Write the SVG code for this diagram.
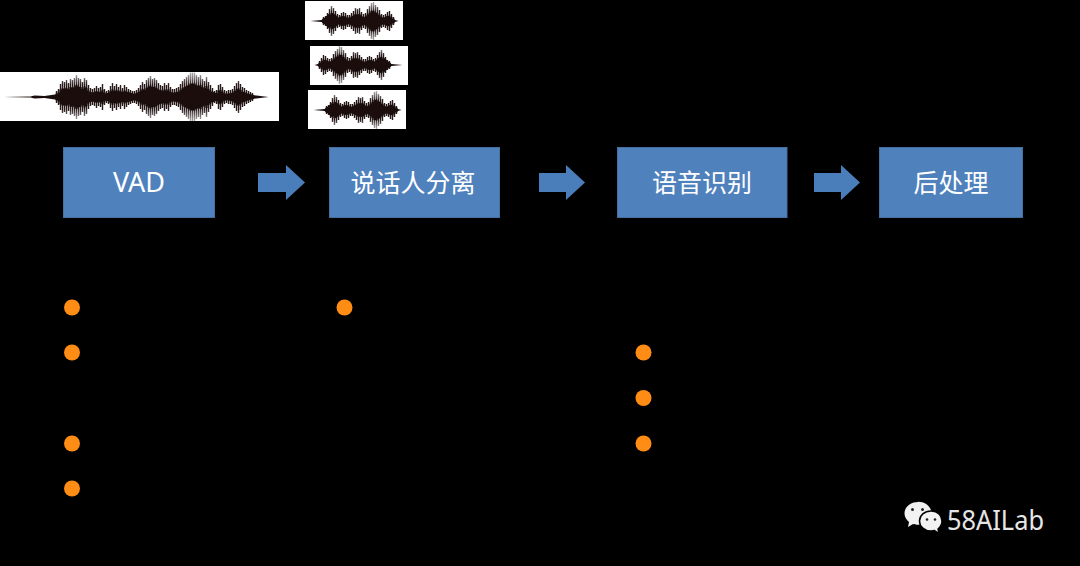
<svg xmlns="http://www.w3.org/2000/svg" xmlns:xlink="http://www.w3.org/1999/xlink" width="1080" height="566" viewBox="0 0 1080 566">
<style>
.box{fill:#4f81bd;stroke:#44719f;stroke-width:1}
.lbl{font-family:"Noto Sans CJK SC","Noto Sans",sans-serif;font-size:25px;fill:#fff;text-anchor:middle}
.lat{font-family:"Noto Sans",sans-serif;font-size:27px}
.arrow{fill:#4a7ebb}
.dot{fill:#ff8c14}
.paper{fill:#fff}
.core{fill:#1a0f0f}
.bars{fill:none;stroke:url(#fade);stroke-width:1.4}
.mid{fill:none;stroke:#1a0f0f;stroke-width:2.2}
.logo{font-family:"Noto Sans","Open Sans",sans-serif;font-size:27px;fill:#e6e6e6}
</style>
<defs>
<linearGradient id="fade" x1="0" y1="0" x2="0" y2="1">
<stop offset="0" stop-color="#1a0f0f" stop-opacity=".3"/>
<stop offset=".25" stop-color="#1a0f0f" stop-opacity=".95"/>
<stop offset=".75" stop-color="#1a0f0f" stop-opacity=".95"/>
<stop offset="1" stop-color="#1a0f0f" stop-opacity=".3"/>
</linearGradient>
<filter id="soft" x="-5%" y="-10%" width="110%" height="120%"><feGaussianBlur stdDeviation="0.4"/></filter>
<path id="sb" d="M18-4v8M20-5v10M22-8v16M24-12v24M26-15v30M28-13v26M30-10v20M32-7v14M34-6v12M36-8v16M38-9v18M40-8v16M42-6v12M44-6v12M46-8v16M48-10v20M50-13v26M52-12v24M54-13v26M56-9v18M58-7v14M60-8v16M62-12v24M64-15v30M66-18v36M68-19v38M70-16v32M72-14v28M74-11v22M76-7v14M78-6v12M80-7v14M82-9v18M84-10v20M86-7v14M88-4v8"/>
<path id="bb" d="M56 91v12M58 89v16M60 84v26M62 81v32M64 82v30M66 80v34M68 83v28M70 79v36M72 80v34M74 78v38M76 75v44M78 78v38M80 79v36M82 82v30M84 78v38M86 80v34M88 85v24M90 88v18M92 89v16M94 88v18M96 86v22M98 88v18M100 87v20M102 84v26M104 89v16M106 91v12M108 90v14M110 86v22M112 83v28M114 86v22M116 84v26M118 87v20M120 85v24M122 88v18M124 85v24M126 87v20M128 89v16M130 90v14M132 91v12M134 91v12M136 90v14M138 88v18M140 85v24M142 82v30M144 84v26M146 80v34M148 78v38M150 76v42M152 79v36M154 78v38M156 80v34M158 83v28M160 85v24M162 86v22M164 83v28M166 85v24M168 83v28M170 87v20M172 89v16M174 89v16M176 88v18M178 87v20M180 84v26M182 81v32M184 79v36M186 77v40M188 75v44M190 72.500v49M192 72.500v49M194 72.500v49M196 75v44M198 77v40M200 75v44M202 79v36M204 81v32M206 77v40M208 82v30M210 85v24M212 88v18M214 91v12M216 90v14M218 85v24M220 84v26M222 87v20M224 90v14M226 91v12M228 90v14M230 90v14M232 89v16M234 86v22M236 83v28M238 81v32M240 84v26M242 87v20M244 88v18M246 90v14M248 91v12M250 92v10M252 93v8"/>
<g id="small" filter="url(#soft)">
<path class="core" d="M5 0L16-1L20-4L23-7L25-5L27-8L30-6L33-3L36-5L39-4L42-3L46-4L49-6L52-4L55-6L58-3L62-5L65-8L68-7L71-8L74-5L78-3L82-5L86-2L93 0L86 2L82 5L78 3L74 5L71 8L68 7L65 8L62 5L58 3L55 6L52 4L49 6L46 4L42 3L39 4L36 5L33 3L30 6L27 8L25 5L23 7L20 4L16 1Z"/>
<use href="#sb" class="mid" transform="scale(1 .55)"/>
<use href="#sb" class="bars"/>
</g>
</defs>
<rect width="1080" height="566" fill="#000"/>
<g id="wave-full">
<rect class="paper" x="0" y="72" width="279" height="49"/>
<g filter="url(#soft)" transform="translate(.5 0)">
<path class="core" d="M3 97L30 96.500L34 95.500L44 96L58 94L62 91L66 92L70 90L74 91L78 89L82 91L86 92L92 94L98 93L104 94L110 92L114 93L118 91L122 93L128 92L134 94L140 92L146 91L150 89L154 91L160 90L170 93L178 94L184 91L188 89L192 90L196 88L200 90L206 91L212 92L220 94L228 94L240 92L252 95L268 97L252 99L240 102L228 100L220 100L212 102L206 103L200 104L196 106L192 104L188 105L184 103L178 100L170 101L160 104L154 103L150 105L146 103L140 102L134 100L128 102L122 101L118 103L114 101L110 102L104 100L98 101L92 100L86 102L82 103L78 105L74 103L70 104L66 102L62 103L58 100L44 98L34 98.500L30 97.500Z"/>
<use href="#bb" class="mid" transform="translate(0 97) scale(1 .55) translate(0 -97)"/>
<use href="#bb" class="bars"/>
</g>
</g>
<g id="wave-a"><rect class="paper" x="305" y="1" width="98" height="39"/><use href="#small" transform="translate(305.500 21)"/></g>
<g id="wave-b"><rect class="paper" x="310" y="46" width="98" height="39"/><use href="#small" transform="translate(407.500 65) scale(-1 1)"/></g>
<g id="wave-c"><rect class="paper" x="308" y="90" width="98" height="39"/><use href="#small" transform="translate(308.500 110)"/></g>
<g id="connectors">
<polygon class="arrow" points="258,173 286,173 286,165 305,182.500 286,200 286,192 258,192"/>
<polygon class="arrow" points="539,173 566,173 566,165 585,182.500 566,200 566,192 539,192"/>
<polygon class="arrow" points="814,173 841,173 841,165 860,182.500 841,200 841,192 814,192"/>
</g>
<g id="node-vad"><rect class="box" x="63.500" y="147.500" width="151" height="70"/><text class="lbl lat" x="139" y="191.500">VAD</text></g>
<g id="node-diarization"><rect class="box" x="329.500" y="147.500" width="170" height="70"/><text class="lbl" x="413" y="192">说话人分离</text></g>
<g id="node-asr"><rect class="box" x="617.500" y="147.500" width="169.500" height="70"/><text class="lbl" x="702" y="192">语音识别</text></g>
<g id="node-post"><rect class="box" x="879.500" y="147.500" width="143" height="70"/><text class="lbl" x="951" y="192">后处理</text></g>
<g id="bullets">
<circle class="dot" cx="72" cy="307.500" r="8"/>
<circle class="dot" cx="72" cy="352.500" r="8"/>
<circle class="dot" cx="72" cy="443.500" r="8"/>
<circle class="dot" cx="72" cy="488.500" r="8"/>
<circle class="dot" cx="344.500" cy="307.500" r="8"/>
<circle class="dot" cx="643.500" cy="352.500" r="8"/>
<circle class="dot" cx="643.500" cy="398" r="8"/>
<circle class="dot" cx="643.500" cy="443.500" r="8"/>
</g>
<g id="logo">
<path fill="#f2f2f2" d="M918 502c-7.500 0-13.500 5-13.500 11.500c0 3.500 2 6.500 4.500 8.500l-1 5l5-3c2 .6 3.500 .8 5 .8c7.500 0 13.500-5 13.500-11.500s-6-11.500-13.500-11.500z"/>
<path fill="#f2f2f2" stroke="#000" stroke-width="1.500" d="M931 511c-6.500 0-11.500 4.500-11.500 10s5 10 11.500 10c1.300 0 2.500-.2 3.500-.5l4.500 3l-1-4.500c2.500-2 4-4.800 4-8c0-5.500-4.500-10-10.500-10z"/>
<circle cx="912.500" cy="509.500" r="1.500" fill="#222"/><circle cx="922.500" cy="509.500" r="1.500" fill="#222"/>
<circle cx="927" cy="519.500" r="1.300" fill="#222"/><circle cx="935" cy="519.500" r="1.300" fill="#222"/>
<text class="logo" x="947" y="530" textLength="97" lengthAdjust="spacingAndGlyphs">58AILab</text>
</g>
</svg>
